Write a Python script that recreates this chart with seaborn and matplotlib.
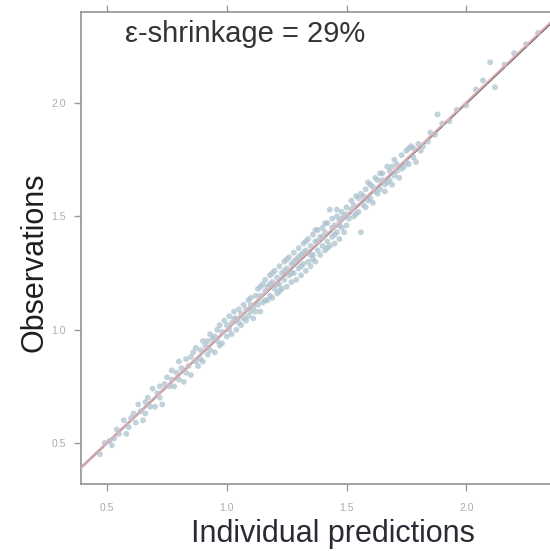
import matplotlib
matplotlib.use("Agg")
import matplotlib.pyplot as plt
import seaborn as sns
import pandas as pd

# Individual predictions (x) and observed values (y)
pred = [
    0.47, 0.49, 0.51, 0.52, 0.54, 0.55, 0.57, 0.58, 0.60, 0.61,
    0.62, 0.63, 0.64, 0.65, 0.66, 0.67, 0.68, 0.69, 0.70, 0.71,
    0.72, 0.73, 0.74, 0.75, 0.76, 0.77, 0.78, 0.79, 0.80, 0.80,
    0.81, 0.82, 0.83, 0.84, 0.85, 0.86, 0.87, 0.87, 0.88, 0.89,
    0.90, 0.90, 0.91, 0.92, 0.93, 0.93, 0.94, 0.95, 0.96, 0.96,
    0.97, 0.98, 0.98, 0.99, 1.00, 1.00, 1.01, 1.02, 1.02, 1.03,
    1.04, 1.04, 1.05, 1.06, 1.06, 1.07, 1.08, 1.08, 1.09, 1.09,
    1.10, 1.10, 1.11, 1.11, 1.12,
    1.13, 1.13, 1.14, 1.14, 1.15, 1.15, 1.16, 1.16, 1.17, 1.17,
    1.18, 1.18, 1.19, 1.19, 1.20, 1.20, 1.21, 1.21, 1.22, 1.22,
    1.23, 1.23, 1.24, 1.24, 1.25, 1.25, 1.26, 1.26, 1.27, 1.27,
    1.28, 1.28, 1.29, 1.29, 1.30, 1.30, 1.31, 1.31, 1.32, 1.32,
    1.33, 1.33, 1.34, 1.34, 1.35, 1.35, 1.36, 1.36, 1.37, 1.37,
    1.38, 1.38, 1.39, 1.39, 1.40, 1.40, 1.41, 1.41, 1.42, 1.42,
    1.43, 1.43, 1.44, 1.44, 1.45, 1.45, 1.46, 1.46, 1.47, 1.47,
    1.48, 1.48, 1.49, 1.49, 1.50, 1.50,
    1.51, 1.52, 1.53, 1.53, 1.54, 1.55, 1.56, 1.56, 1.57, 1.58,
    1.58, 1.59, 1.60, 1.61, 1.61, 1.62, 1.63, 1.64, 1.64, 1.65,
    1.66, 1.67, 1.67, 1.68, 1.69, 1.70, 1.70, 1.71, 1.72, 1.73,
    1.74, 1.75, 1.76, 1.77, 1.78, 1.79, 1.80, 1.81,
    1.84, 1.87, 1.88, 1.90, 1.93, 1.96, 2.00, 2.04, 2.07, 2.10,
    2.12, 2.16, 2.20, 2.25, 2.30,
    0.53, 0.59, 0.66, 0.72, 0.77, 0.83, 0.85, 0.89, 0.92, 0.95,
    0.97, 1.01, 1.03, 1.05, 1.07, 1.10, 1.12, 1.14, 1.16, 1.18,
    1.19, 1.21, 1.22, 1.24, 1.25, 1.27, 1.28, 1.30, 1.31, 1.32,
    1.33, 1.35, 1.36, 1.37, 1.38, 1.40, 1.41, 1.42, 1.44, 1.45,
    1.46, 1.47, 1.48, 1.50, 1.52, 1.54, 1.55, 1.57, 1.59, 1.60,
    1.62, 1.63, 1.65, 1.66, 1.68, 1.69, 1.71, 1.73, 1.75, 1.76,
    1.78, 1.82, 1.85,
]
obs = [
    0.45, 0.50, 0.51, 0.49, 0.56, 0.54, 0.60, 0.54, 0.61, 0.63,
    0.59, 0.67, 0.64, 0.60, 0.68, 0.70, 0.66, 0.74, 0.66, 0.72,
    0.75, 0.67, 0.76, 0.79, 0.75, 0.82, 0.75, 0.81, 0.86, 0.78,
    0.83, 0.77, 0.87, 0.84, 0.80, 0.90, 0.86, 0.92, 0.84, 0.91,
    0.95, 0.86, 0.93, 0.89, 0.98, 0.91, 0.96, 0.90, 1.00, 0.95,
    1.02, 0.94, 0.99, 1.04, 0.97, 1.02, 1.06, 0.98, 1.03, 1.08,
    1.00, 1.05, 1.09, 1.02, 1.07, 1.11, 1.04, 1.09, 1.13, 1.06,
    1.08, 1.14, 1.10, 1.05, 1.15,
    1.11, 1.18, 1.08, 1.15, 1.20, 1.12, 1.17, 1.22, 1.13, 1.19,
    1.24, 1.15, 1.21, 1.14, 1.26, 1.18, 1.23, 1.16, 1.28, 1.20,
    1.25, 1.18, 1.30, 1.22, 1.27, 1.19, 1.32, 1.24, 1.29, 1.21,
    1.34, 1.25, 1.31, 1.22, 1.36, 1.27, 1.33, 1.24, 1.38, 1.29,
    1.35, 1.26, 1.40, 1.30, 1.37, 1.28, 1.42, 1.33, 1.39, 1.30,
    1.44, 1.35, 1.41, 1.33, 1.45, 1.37, 1.43, 1.35, 1.47, 1.39,
    1.53, 1.37, 1.49, 1.41, 1.46, 1.38, 1.50, 1.43, 1.48, 1.40,
    1.52, 1.45, 1.50, 1.43, 1.54, 1.46,
    1.49, 1.57, 1.50, 1.55, 1.59, 1.52, 1.43, 1.60, 1.55, 1.62,
    1.54, 1.65, 1.58, 1.63, 1.56, 1.67, 1.60, 1.69, 1.62, 1.66,
    1.61, 1.72, 1.65, 1.70, 1.64, 1.75, 1.68, 1.73, 1.67, 1.77,
    1.72, 1.79, 1.73, 1.81, 1.76, 1.74, 1.82, 1.79,
    1.83, 1.86, 1.95, 1.91, 1.92, 1.97, 1.99, 2.06, 2.10, 2.18,
    2.07, 2.17, 2.22, 2.26, 2.31,
    0.52, 0.57, 0.63, 0.70, 0.78, 0.81, 0.88, 0.87, 0.95, 0.97,
    0.93, 1.00, 1.05, 1.03, 1.05, 1.11, 1.08, 1.19, 1.13, 1.20,
    1.25, 1.20, 1.17, 1.26, 1.31, 1.25, 1.30, 1.32, 1.28, 1.34,
    1.39, 1.33, 1.31, 1.44, 1.39, 1.41, 1.47, 1.36, 1.45, 1.42,
    1.53, 1.46, 1.49, 1.51, 1.53, 1.51, 1.58, 1.59, 1.57, 1.64,
    1.61, 1.66, 1.69, 1.64, 1.66, 1.72, 1.70, 1.71, 1.74, 1.80,
    1.80, 1.81, 1.87,
]

tick_values = [0.5, 1.0, 1.5, 2.0]
tick_labels = ["0.5", "1.0", "1.5", "2.0"]
shrinkage_label = "ε-shrinkage = 29%"

df = pd.DataFrame({"pred": pred, "obs": obs})

sns.set_style("white")
plt.rcParams["font.family"] = ["Liberation Sans", "DejaVu Sans"]

fig = plt.figure(figsize=(5.5, 5.51), dpi=100)
ax = fig.add_axes([0.1473, 0.1216, 0.8745, 0.8566])

xlim = (0.391, 2.40)
ylim = (0.319, 2.402)

# identity reference line
ax.plot([0.0, 3.0], [0.0, 3.0], color="#4d4d4d", lw=1.6, zorder=1)

sns.scatterplot(data=df, x="pred", y="obs", ax=ax, s=18, color="#a9c0cd",
                alpha=0.7, edgecolor="none", zorder=2)

# smooth fit through the observations
sns.regplot(data=df, x="pred", y="obs", ax=ax, scatter=False, ci=None,
            truncate=False,
            line_kws={"color": "#ebb8bf", "lw": 1.6, "alpha": 0.85, "zorder": 3})

ax.set_xlim(*xlim)
ax.set_ylim(*ylim)

ax.set_xticks(tick_values)
ax.set_xticklabels(tick_labels)
ax.set_yticks(tick_values)
ax.set_yticklabels(tick_labels)

ax.tick_params(axis="both", which="both", direction="out", length=5,
               width=1.0, color="#9a9a9a", labelsize=7.5,
               labelcolor="#a8aeb6", pad=6)
ax.tick_params(axis="x", top=True, bottom=True, labeltop=False, pad=9)
ax.tick_params(axis="y", left=True, right=False)

for side, spine in ax.spines.items():
    spine.set_color("#9a9a9a")
    spine.set_linewidth(1.3)

ax.set_xlabel("Individual predictions", fontsize=22, color="#2a2a35")
ax.set_ylabel("Observations", fontsize=22, color="#1e1e1e")
ax.xaxis.set_label_coords(0.524, -0.075)
ax.yaxis.set_label_coords(-0.066, 0.47)

ax.text(0.092, 0.937, shrinkage_label, transform=ax.transAxes,
        fontsize=21, color="#333333", ha="left", va="baseline")

fig.savefig("out.png", dpi=100)
